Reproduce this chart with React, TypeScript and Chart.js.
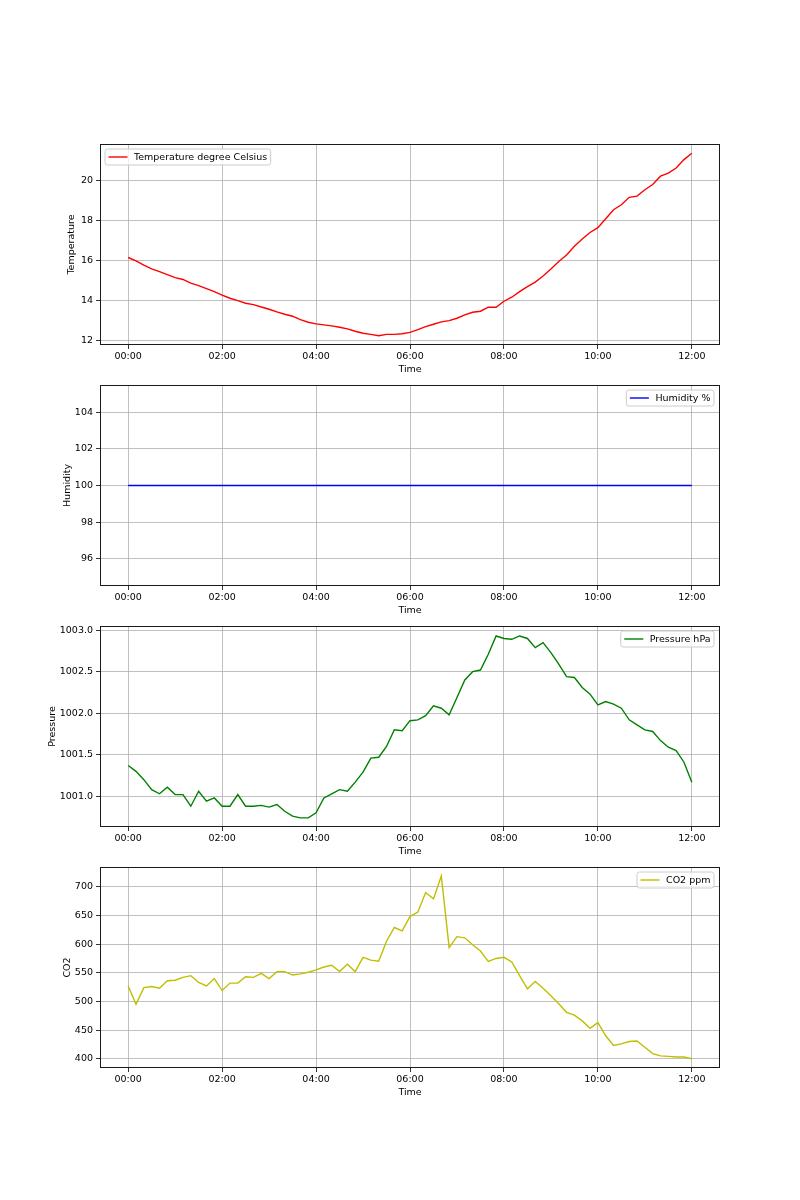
import React, { useEffect, useRef } from "react";
import { Chart, registerables } from "chart.js";

Chart.register(...registerables);

const timeLabels = [
  "00:00", "00:10", "00:20", "00:30", "00:40", "00:50",
  "01:00", "01:10", "01:20", "01:30", "01:40", "01:50",
  "02:00", "02:10", "02:20", "02:30", "02:40", "02:50",
  "03:00", "03:10", "03:20", "03:30", "03:40", "03:50",
  "04:00", "04:10", "04:20", "04:30", "04:40", "04:50",
  "05:00", "05:10", "05:20", "05:30", "05:40", "05:50",
  "06:00", "06:10", "06:20", "06:30", "06:40", "06:50",
  "07:00", "07:10", "07:20", "07:30", "07:40", "07:50",
  "08:00", "08:10", "08:20", "08:30", "08:40", "08:50",
  "09:00", "09:10", "09:20", "09:30", "09:40", "09:50",
  "10:00", "10:10", "10:20", "10:30", "10:40", "10:50",
  "11:00", "11:10", "11:20", "11:30", "11:40", "11:50",
  "12:00",
];

const temperature = [
  16.17, 16.0, 15.79, 15.6, 15.46, 15.31, 15.16, 15.07, 14.89, 14.76, 14.61, 14.46,
  14.29, 14.13, 14.01, 13.88, 13.81, 13.69, 13.58, 13.45, 13.33, 13.23, 13.06, 12.93,
  12.85, 12.8, 12.75, 12.68, 12.6, 12.48, 12.38, 12.32, 12.25, 12.32, 12.32, 12.35,
  12.42, 12.56, 12.71, 12.83, 12.95, 13.01, 13.13, 13.3, 13.43, 13.48, 13.68, 13.68,
  13.98, 14.18, 14.46, 14.71, 14.94, 15.24, 15.59, 15.97, 16.29, 16.73, 17.1, 17.42,
  17.66, 18.11, 18.56, 18.81, 19.18, 19.24, 19.56, 19.82, 20.24, 20.39, 20.65, 21.07,
  21.39,
];

const humidity = [
  100, 100, 100, 100, 100, 100, 100, 100, 100, 100, 100, 100,
  100, 100, 100, 100, 100, 100, 100, 100, 100, 100, 100, 100,
  100, 100, 100, 100, 100, 100, 100, 100, 100, 100, 100, 100,
  100, 100, 100, 100, 100, 100, 100, 100, 100, 100, 100, 100,
  100, 100, 100, 100, 100, 100, 100, 100, 100, 100, 100, 100,
  100, 100, 100, 100, 100, 100, 100, 100, 100, 100, 100, 100,
  100,
];

const pressure = [
  1001.37, 1001.3, 1001.2, 1001.08, 1001.03, 1001.11, 1001.02, 1001.02, 1000.88, 1001.06, 1000.94, 1000.98,
  1000.88, 1000.88, 1001.02, 1000.88, 1000.88, 1000.89, 1000.87, 1000.9, 1000.82, 1000.76, 1000.74, 1000.74,
  1000.8, 1000.98, 1001.03, 1001.08, 1001.06, 1001.17, 1001.29, 1001.46, 1001.47, 1001.6, 1001.8, 1001.79,
  1001.91, 1001.92, 1001.97, 1002.09, 1002.06, 1001.98, 1002.19, 1002.4, 1002.5, 1002.52, 1002.71, 1002.93,
  1002.9, 1002.89, 1002.93, 1002.9, 1002.79, 1002.85, 1002.73, 1002.59, 1002.44, 1002.43, 1002.31, 1002.23,
  1002.1, 1002.14, 1002.11, 1002.06, 1001.92, 1001.86, 1001.8, 1001.78, 1001.67, 1001.59, 1001.55, 1001.41,
  1001.17,
];

const co2 = [
  527, 495, 524, 526, 523, 536, 537, 542, 545, 533, 527, 540,
  519, 532, 532, 543, 542, 549, 540, 552, 552, 546, 548, 551,
  555, 560, 563, 552, 565, 552, 577, 572, 570, 605, 629, 623,
  648, 656, 690, 679, 719, 594, 613, 611, 599, 588, 570, 575,
  577, 569, 545, 522, 535, 523, 510, 496, 481, 476, 466, 453,
  463, 440, 423, 426, 430, 431, 420, 409, 405, 404, 403, 403,
  400,
];

const xTickLabels = ["00:00", "02:00", "04:00", "06:00", "08:00", "10:00", "12:00"];
const tempTicks = [12, 14, 16, 18, 20];
const humTicks = [96, 98, 100, 102, 104];
const presTicks = [1001.0, 1001.5, 1002.0, 1002.5, 1003.0];
const co2Ticks = [400, 450, 500, 550, 600, 650, 700];

const FONT_FAMILY = "'DejaVu Sans', sans-serif";
const FS = 9.5;

function toHours(s: string): number {
  const [h, m] = s.split(":").map(Number);
  return h + m / 60;
}

type Panel = {
  key: string;
  label: string;
  yTitle: string;
  values: number[];
  color: string;
  yMin: number;
  yMax: number;
  yTicks: number[];
  decimals: number;
  legendAlign: "left" | "right";
  titleCenter: number;
  top: number;
};

const panels: Panel[] = [
  {
    key: "t", label: "Temperature degree Celsius", yTitle: "Temperature", values: temperature,
    color: "#ff0000", yMin: 11.79, yMax: 21.85, yTicks: tempTicks, decimals: 0,
    legendAlign: "left", titleCenter: 72, top: 144,
  },
  {
    key: "h", label: "Humidity %", yTitle: "Humidity", values: humidity,
    color: "#0000ff", yMin: 94.5, yMax: 105.5, yTicks: humTicks, decimals: 0,
    legendAlign: "right", titleCenter: 67.5, top: 385,
  },
  {
    key: "p", label: "Pressure hPa", yTitle: "Pressure", values: pressure,
    color: "#008000", yMin: 1000.63, yMax: 1003.05, yTicks: presTicks, decimals: 1,
    legendAlign: "right", titleCenter: 53, top: 626,
  },
  {
    key: "c", label: "CO2 ppm", yTitle: "CO2", values: co2,
    color: "#bfbf00", yMin: 383.8, yMax: 734.6, yTicks: co2Ticks, decimals: 0,
    legendAlign: "right", titleCenter: 67.5, top: 867,
  },
];

const CANVAS_W = 800;
const CANVAS_H = 270;
const PAD_TOP = 20;
const PLOT_H = 201;

const framePlugin = {
  id: "mplFrame",
  afterDatasetsDraw(chart: any) {
    const { ctx, chartArea } = chart;
    ctx.save();
    ctx.strokeStyle = "#1a1a1a";
    ctx.lineWidth = 1;
    const l = Math.round(chartArea.left);
    const t = Math.round(chartArea.top);
    const r = Math.round(chartArea.right);
    const b = Math.round(chartArea.bottom);
    ctx.strokeRect(l + 0.5, t + 0.5, r - l - 1, b - t - 1);
    ctx.restore();
  },
};

const legendPlugin = {
  id: "mplLegend",
  afterDraw(chart: any, _args: any, opts: any) {
    if (!opts || !opts.text) return;
    const { ctx, chartArea } = chart;
    ctx.save();
    ctx.font = `${FS}px ${FONT_FAMILY}`;
    const tw = ctx.measureText(opts.text).width;
    const pad = 3.5;
    const handle = 19;
    const gap = 6.5;
    const w = pad + handle + gap + tw + pad;
    const h = 16;
    const x = opts.align === "left" ? chartArea.left + 5 : chartArea.right - 6 - w;
    const y = chartArea.top + 5;
    const r = 2.5;
    ctx.beginPath();
    ctx.moveTo(x + r, y);
    ctx.lineTo(x + w - r, y);
    ctx.quadraticCurveTo(x + w, y, x + w, y + r);
    ctx.lineTo(x + w, y + h - r);
    ctx.quadraticCurveTo(x + w, y + h, x + w - r, y + h);
    ctx.lineTo(x + r, y + h);
    ctx.quadraticCurveTo(x, y + h, x, y + h - r);
    ctx.lineTo(x, y + r);
    ctx.quadraticCurveTo(x, y, x + r, y);
    ctx.closePath();
    ctx.fillStyle = "rgba(255,255,255,0.8)";
    ctx.fill();
    ctx.strokeStyle = "#cccccc";
    ctx.lineWidth = 1;
    ctx.stroke();
    const cy = y + h / 2;
    ctx.beginPath();
    ctx.moveTo(x + pad, cy);
    ctx.lineTo(x + pad + handle, cy);
    ctx.strokeStyle = opts.color;
    ctx.lineWidth = 1.4;
    ctx.stroke();
    ctx.fillStyle = "#000000";
    ctx.textBaseline = "middle";
    ctx.textAlign = "left";
    ctx.fillText(opts.text, x + pad + handle + gap, cy + 0.5);
    ctx.restore();
  },
};

function PanelChart({ panel }: { panel: Panel }) {
  const ref = useRef<HTMLCanvasElement | null>(null);

  useEffect(() => {
    if (!ref.current) return;
    const font = { family: FONT_FAMILY, size: FS, lineHeight: 1.2 };
    const points = timeLabels.map((t, i) => ({ x: toHours(t), y: panel.values[i] }));
    const xTickValues = xTickLabels.map(toHours);

    const chart = new Chart(ref.current, {
      type: "line",
      data: {
        datasets: [
          {
            label: panel.label,
            data: points,
            borderColor: panel.color,
            backgroundColor: panel.color,
            borderWidth: 1.4,
            pointRadius: 0,
            pointHoverRadius: 0,
            tension: 0,
            fill: false,
          },
        ],
      },
      options: {
        animation: false,
        responsive: false,
        maintainAspectRatio: false,
        events: [],
        layout: { padding: { top: PAD_TOP, left: 0, right: 80, bottom: 0 } },
        plugins: {
          legend: { display: false },
          tooltip: { enabled: false },
          title: { display: false },
          mplLegend: { text: panel.label, color: panel.color, align: panel.legendAlign },
        } as any,
        scales: {
          x: {
            type: "linear",
            min: -0.6,
            max: 12.6,
            afterBuildTicks: (scale: any) => {
              scale.ticks = xTickValues.map((v) => ({ value: v }));
            },
            afterFit: (scale: any) => {
              scale.height = CANVAS_H - PAD_TOP - PLOT_H;
            },
            ticks: {
              font,
              color: "#000000",
              padding: 2,
              maxRotation: 0,
              autoSkip: false,
              callback: (_v: any, i: number) => xTickLabels[i],
            },
            grid: {
              color: "#b0b0b0",
              lineWidth: 0.8,
              drawTicks: true,
              tickLength: 4,
              tickColor: "#000000",
              tickWidth: 0.8,
            },
            border: { display: false },
            title: {
              display: true,
              text: "Time",
              font,
              color: "#000000",
              padding: { top: 0, bottom: 18.6 },
            },
          },
          y: {
            type: "linear",
            min: panel.yMin,
            max: panel.yMax,
            afterBuildTicks: (scale: any) => {
              scale.ticks = panel.yTicks.map((v) => ({ value: v }));
            },
            afterFit: (scale: any) => {
              scale.width = 100;
            },
            ticks: {
              font,
              color: "#000000",
              padding: 3,
              autoSkip: false,
              callback: (v: any) => Number(v).toFixed(panel.decimals),
            },
            grid: {
              color: "#b0b0b0",
              lineWidth: 0.8,
              drawTicks: true,
              tickLength: 4,
              tickColor: "#000000",
              tickWidth: 0.8,
            },
            border: { display: false },
            title: {
              display: true,
              text: panel.yTitle,
              font,
              color: "#000000",
              padding: { top: panel.titleCenter - (FS * 1.2) / 2, bottom: 0 },
            },
          },
        },
      },
      plugins: [framePlugin, legendPlugin],
    } as any);

    return () => chart.destroy();
  }, [panel]);

  return (
    <canvas
      ref={ref}
      width={CANVAS_W}
      height={CANVAS_H}
      style={{
        position: "absolute",
        left: 0,
        top: panel.top - PAD_TOP,
        width: CANVAS_W,
        height: CANVAS_H,
      }}
    />
  );
}

export default function App() {
  return (
    <div
      style={{
        position: "absolute",
        left: 0,
        top: 0,
        width: 800,
        height: 1200,
        background: "#ffffff",
      }}
    >
      {panels.map((p) => (
        <PanelChart key={p.key} panel={p} />
      ))}
    </div>
  );
}
